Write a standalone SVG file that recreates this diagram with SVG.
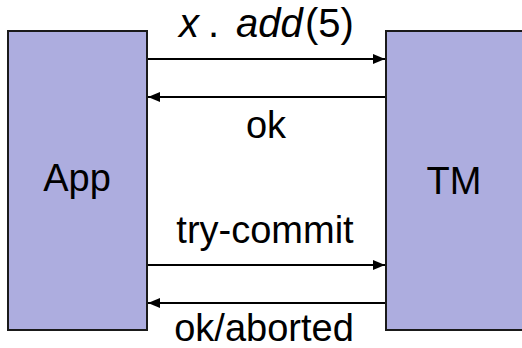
<svg xmlns="http://www.w3.org/2000/svg" width="522" height="348" viewBox="0 0 522 348">
<style>
.box{fill:#adaddf;stroke:#1a1a1a;stroke-width:2}
.lbl{font-family:"Liberation Sans",Arial,sans-serif;font-size:38px;fill:#000;text-anchor:middle}
.math{font-family:"Liberation Sans",Arial,sans-serif;font-size:40px;fill:#000}
.it{font-style:italic}
.arr{stroke:#000;stroke-width:2;fill:none;marker-end:url(#ah)}
</style>
<defs>
<marker id="ah" markerUnits="userSpaceOnUse" markerWidth="14" markerHeight="12" refX="12" refY="5" orient="auto">
<path d="M0,0 L12,5 L0,10 Z" fill="#000"/>
</marker>
</defs>
<rect width="522" height="348" fill="#fff"/>
<g id="app">
<rect class="box" x="8" y="31" width="139" height="299"/>
<text class="lbl" x="77" y="191">App</text>
</g>
<g id="tm">
<rect class="box" x="386" y="31" width="150" height="299"/>
<text class="lbl" x="454" y="194">TM</text>
</g>
<g id="connectors">
<line class="arr" x1="148" y1="59" x2="385" y2="59"/>
<line class="arr" x1="385" y1="97" x2="148" y2="97"/>
<line class="arr" x1="148" y1="265" x2="385" y2="265"/>
<line class="arr" x1="385" y1="303" x2="148" y2="303"/>
</g>
<g id="labels">
<text class="math" y="37"><tspan class="it" x="179">x</tspan><tspan x="208">.</tspan><tspan class="it" x="236">add</tspan><tspan x="305">(5)</tspan></text>
<text class="lbl" x="266" y="138">ok</text>
<text class="lbl" x="265" y="243">try-commit</text>
<text class="lbl" x="264" y="341">ok/aborted</text>
</g>
</svg>
